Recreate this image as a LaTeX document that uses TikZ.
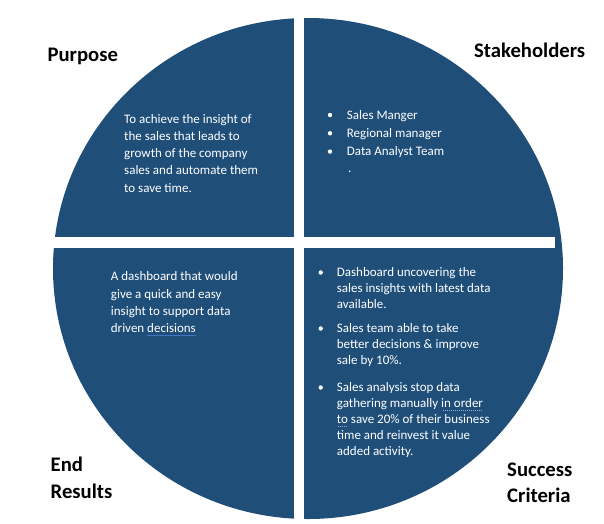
\documentclass[tikz,border=0pt]{standalone}
\usepackage{fontspec}
\setmainfont{Carlito}
\definecolor{quadblue}{HTML}{1F4E79}
\definecolor{ulblue}{HTML}{4472C4}
\definecolor{dotblue}{HTML}{8FAADC}
\newcommand\solidul[1]{\setbox0\hbox{#1}\rlap{\color{ulblue}\raisebox{-2.6pt}{\rule{\wd0}{0.7pt}}}\box0\relax}
\newcommand\dotul[1]{\setbox0\hbox{#1}\dimen0=\wd0\rlap{\color{dotblue}\raisebox{-3pt}{\hbox to \dimen0{\cleaders\hbox to 2pt{\hss\vrule width 1.1pt height 0.5pt depth 0.5pt\hss}\hfill}}}\box0\relax}
\tikzset{
  body/.style={text=white, inner sep=0pt, anchor=base west, font=\fontsize{13}{16}\selectfont},
  head/.style={text=black, inner sep=0pt, anchor=base west, font=\fontsize{20.7}{25}\selectfont\bfseries},
  bul/.style={circle, fill=white, inner sep=0pt, minimum size=4.4pt},
  gap/.style={fill=white}
}
\begin{document}
\begin{tikzpicture}[x=1pt, y=-1pt]
\useasboundingbox (0,0) rectangle (604,523);
% disc and white gaps
\fill[quadblue] (308,268.5) ellipse [x radius=255pt, y radius=250.5pt];
\fill[gap] (294,-1) rectangle (304,524);
\fill[gap] (-1,237) rectangle (555,248);
% headings
\node[head] (hpur) at (47.4,61.7) {Purpose};
\node[head] (hstk) at (474,57.3) {Stakeholders};
\node[head] (hend1) at (50.5,471.7) {End};
\node[head] (hend2) at (50.5,498.3) {Results};
\node[head] (hsuc1) at (507,476) {Success};
\node[head] (hsuc2) at (507,502.7) {Criteria};
% purpose
\foreach \t [count=\i from 0] in {To achieve the insight of, the sales that leads to, growth of the company, sales and automate them, to save time.}
  \node[body] (pur\i) at (124,123.3+17.2*\i) {\t};
% stakeholders
\foreach \t [count=\i from 0] in {Sales Manger, Regional manager, Data Analyst Team}{
  \node[body] (stk\i) at (346.7,119+18.3*\i) {\t};
  \node[bul] (stkb\i) at (330,115+18.3*\i) {};
}
\node[body] (stkdot) at (348,172) {.};
% end results
\foreach \t [count=\i from 0] in {A dashboard that would, give a quick and easy, insight to support data, driven \solidul{decisions}}
  \node[body] (end\i) at (110.7,280.7+17.4*\i) {\t};
% success criteria
\foreach \t [count=\i from 0] in {Dashboard uncovering the, sales insights with latest data, available.}
  \node[body] (sa\i) at (336.7,276.5+16*\i) {\t};
\foreach \t [count=\i from 0] in {Sales team able to take, better decisions \& improve, sale by 10\%.}
  \node[body] (sb\i) at (336.7,332.5+16*\i) {\t};
\foreach \t [count=\i from 0] in {Sales analysis stop data, gathering manually \dotul{in order}, \dotul{to} save 20\% of their business, time and reinvest it value, added activity.}
  \node[body] (sc\i) at (336.7,391.5+16*\i) {\t};
\node[bul] (bula) at (320.7,272.5) {};
\node[bul] (bulb) at (320.7,328.5) {};
\node[bul] (bulc) at (320.7,387.5) {};
\end{tikzpicture}
\end{document}
